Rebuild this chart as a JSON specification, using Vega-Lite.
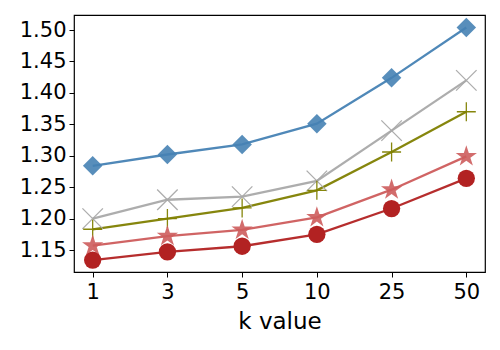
{
  "$schema": "https://vega.github.io/schema/vega-lite/v6.json",
  "autosize": {"type": "none"},
  "width": 411,
  "height": 257,
  "padding": {"left": 74, "top": 15, "right": 15, "bottom": 78},
  "background": "white",
  "config": {
    "font": "DejaVu Sans",
    "view": {"stroke": "black", "strokeWidth": 1.2},
    "axis": {"domainColor": "black", "tickColor": "black", "labelColor": "black", "titleColor": "black", "grid": false, "labelFontSize": 21, "titleFontSize": 23, "titleFontWeight": "normal", "tickSize": 5, "labelPadding": 3}
  },
  "data": {"values": [
    {"k": "1", "o": 0, "series": "A", "v": 1.284},
    {"k": "3", "o": 1, "series": "A", "v": 1.302},
    {"k": "5", "o": 2, "series": "A", "v": 1.318},
    {"k": "10", "o": 3, "series": "A", "v": 1.351},
    {"k": "25", "o": 4, "series": "A", "v": 1.424},
    {"k": "50", "o": 5, "series": "A", "v": 1.504},
    {"k": "1", "o": 0, "series": "B", "v": 1.200},
    {"k": "3", "o": 1, "series": "B", "v": 1.230},
    {"k": "5", "o": 2, "series": "B", "v": 1.235},
    {"k": "10", "o": 3, "series": "B", "v": 1.260},
    {"k": "25", "o": 4, "series": "B", "v": 1.340},
    {"k": "50", "o": 5, "series": "B", "v": 1.420},
    {"k": "1", "o": 0, "series": "C", "v": 1.183},
    {"k": "3", "o": 1, "series": "C", "v": 1.200},
    {"k": "5", "o": 2, "series": "C", "v": 1.217},
    {"k": "10", "o": 3, "series": "C", "v": 1.245},
    {"k": "25", "o": 4, "series": "C", "v": 1.306},
    {"k": "50", "o": 5, "series": "C", "v": 1.370},
    {"k": "1", "o": 0, "series": "D", "v": 1.157},
    {"k": "3", "o": 1, "series": "D", "v": 1.172},
    {"k": "5", "o": 2, "series": "D", "v": 1.182},
    {"k": "10", "o": 3, "series": "D", "v": 1.202},
    {"k": "25", "o": 4, "series": "D", "v": 1.246},
    {"k": "50", "o": 5, "series": "D", "v": 1.299},
    {"k": "1", "o": 0, "series": "E", "v": 1.134},
    {"k": "3", "o": 1, "series": "E", "v": 1.147},
    {"k": "5", "o": 2, "series": "E", "v": 1.156},
    {"k": "10", "o": 3, "series": "E", "v": 1.175},
    {"k": "25", "o": 4, "series": "E", "v": 1.216},
    {"k": "50", "o": 5, "series": "E", "v": 1.264}
  ]},
  "encoding": {
    "x": {"field": "k", "type": "ordinal", "sort": ["1", "3", "5", "10", "25", "50"], "scale": {"type": "point", "padding": 0.25}, "axis": {"labelAngle": 0, "title": "k value", "domain": false, "titlePadding": 8, "labelPadding": 4}},
    "y": {"field": "v", "type": "quantitative", "scale": {"domain": [1.115, 1.524], "nice": false, "zero": false}, "axis": {"values": [1.15, 1.2, 1.25, 1.3, 1.35, 1.4, 1.45, 1.5], "format": ".2f", "title": null, "domain": false}}
  },
  "layer": [
    {
      "mark": {"type": "line", "strokeWidth": 2.3, "opacity": 0.95},
      "encoding": {
        "color": {"field": "series", "type": "nominal", "legend": null, "scale": {"domain": ["A", "B", "C", "D", "E"], "range": ["#4682b4", "#a9a9a9", "#808000", "#cd5c5c", "#b22222"]}},
        "order": {"field": "o"}
      }
    },
    {
      "transform": [{"filter": "datum.series == 'A'"}],
      "mark": {"type": "point", "shape": "diamond", "filled": true, "color": "#4682b4", "opacity": 0.9, "size": 380}
    },
    {
      "transform": [{"filter": "datum.series == 'B'"}],
      "mark": {"type": "point", "shape": "M-1,-1L1,1M-1,1L1,-1", "filled": false, "color": "#a9a9a9", "strokeWidth": 1.3, "opacity": 0.95, "size": 420}
    },
    {
      "transform": [{"filter": "datum.series == 'C'"}],
      "mark": {"type": "point", "shape": "M-1,0L1,0M0,-1L0,1", "filled": false, "color": "#808000", "strokeWidth": 1.3, "opacity": 0.95, "size": 360}
    },
    {
      "transform": [{"filter": "datum.series == 'D'"}],
      "mark": {"type": "point", "shape": "M0,-1L0.2245,-0.309L0.951,-0.309L0.363,0.118L0.588,0.809L0,0.382L-0.588,0.809L-0.363,0.118L-0.951,-0.309L-0.2245,-0.309Z", "filled": true, "color": "#cd5c5c", "opacity": 0.9, "size": 500}
    },
    {
      "transform": [{"filter": "datum.series == 'E'"}],
      "mark": {"type": "point", "shape": "circle", "filled": true, "color": "#b22222", "opacity": 1, "size": 300}
    }
  ]
}
